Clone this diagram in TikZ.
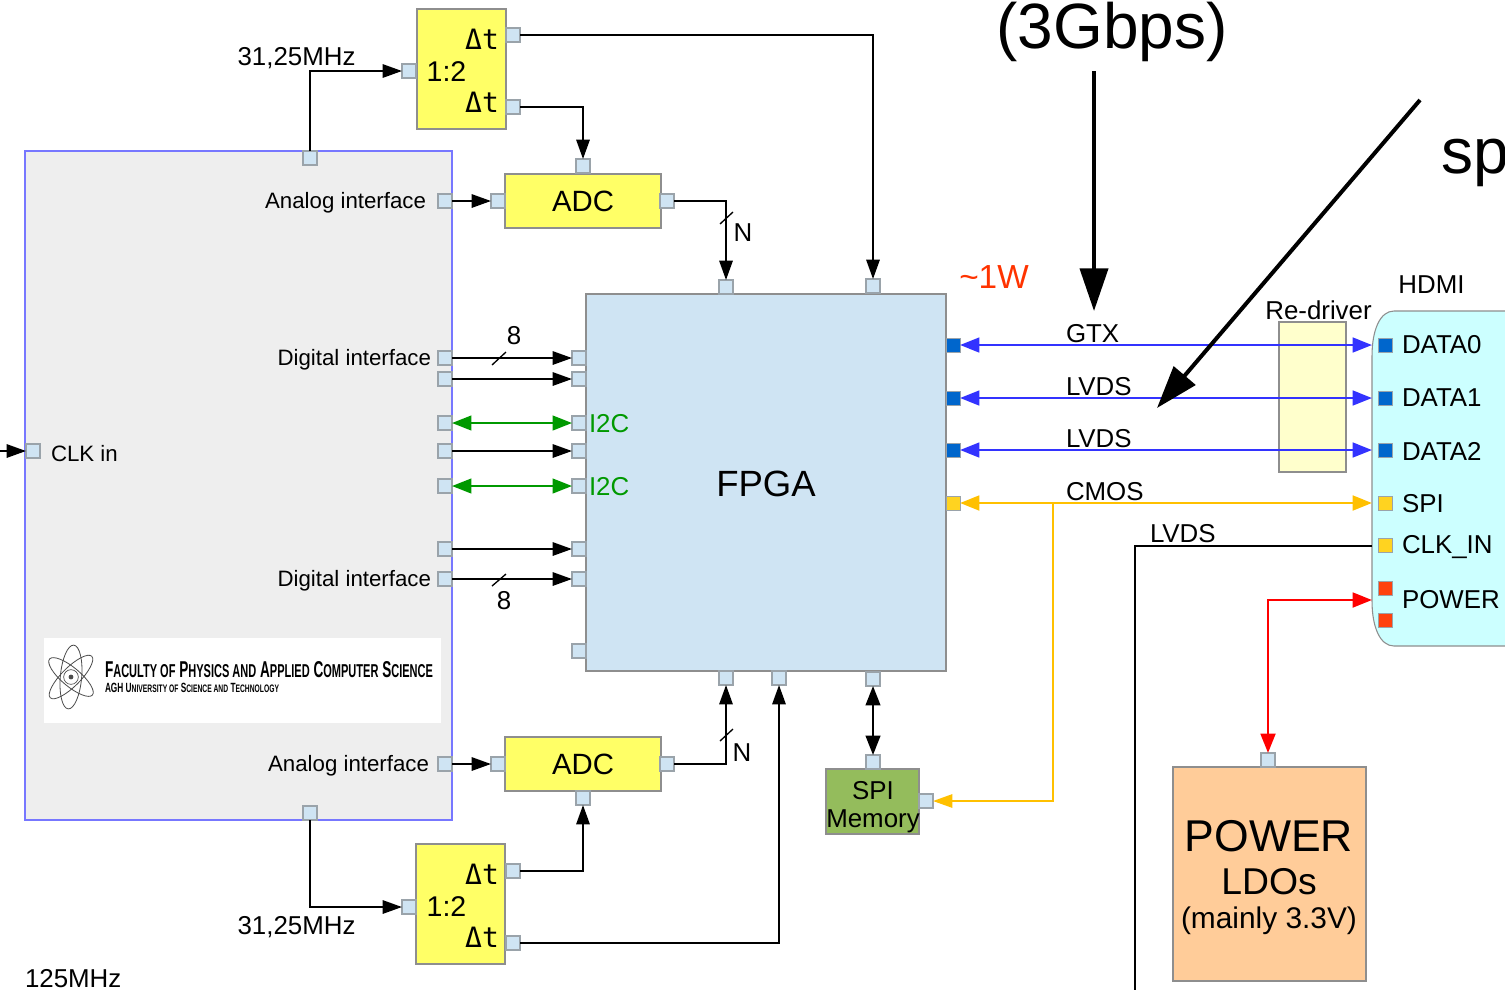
\documentclass[tikz,border=0pt]{standalone}
\usepackage{fontspec}
\usepackage{graphicx}
\setmainfont{Liberation Sans}
\newfontfamily\monof{DejaVu Sans Mono}
\usetikzlibrary{arrows.meta}
\definecolor{portfill}{HTML}{CFE4F3}
\definecolor{portline}{HTML}{9AA3AA}
\definecolor{boxline}{HTML}{8E8E8E}
\definecolor{bluel}{HTML}{3333FF}
\definecolor{greenl}{HTML}{009900}
\definecolor{yell}{HTML}{FFC000}
\definecolor{dblue}{HTML}{0066CC}
\definecolor{dyel}{HTML}{FFD320}
\definecolor{dred}{HTML}{FF420E}
\definecolor{ybright}{HTML}{FFFF66}
\definecolor{greyf}{HTML}{EEEEEE}
\definecolor{mainl}{HTML}{7777FF}
\definecolor{memf}{HTML}{94BC5C}
\definecolor{redrv}{HTML}{FFFFCC}
\definecolor{hdmif}{HTML}{CCFFFF}
\definecolor{powf}{HTML}{FFCC99}
\definecolor{wred}{HTML}{FF3300}
\newcommand{\sz}[1]{\fontsize{#1}{#1}\selectfont}
\newcommand{\lsc}[1]{{\sz{13pt}#1}}
\tikzset{
  x=0.75pt,y=-0.75pt,
  wh/.style 2 args={minimum width=#1*0.75pt,minimum height=#2*0.75pt,inner sep=0pt,outer sep=0pt},
  port/.style={draw=portline,line width=0.9pt,fill=portfill,wh={14}{14}},
  cport/.style={draw=portline,line width=0.6pt,fill=#1,wh={14}{14}},
  ybox/.style={draw=boxline,line width=0.8pt,fill=#1,outer sep=0pt,inner sep=0pt},
  txt/.style={inner sep=0pt,outer sep=0pt,text=black},
  wire/.style={line width=1.5pt,black},
  arr/.style={wire,-{Triangle[length=14.5pt,width=10pt]}},
  darr/.style={{Triangle[length=14.5pt,width=11pt]}-{Triangle[length=14.5pt,width=11pt]}},
  barr/.style={line width=1.9pt,bluel,darr},
  garr/.style={line width=1.5pt,greenl,darr},
  fat/.style={line width=3pt,black,-{Triangle[length=32pt,width=21pt]}},
}
\begin{document}
\begin{tikzpicture}
\clip (0,0) rectangle (1505,990);
% big boxes
\node[ybox=greyf,draw=mainl,wh={427}{669}] (main) at (238.5,485.5) {};
\node[ybox=portfill,wh={360}{377}] (fpga) at (766,482.5) {};
\node[ybox=ybright,wh={89}{120}] (s1) at (461.5,69) {};
\node[ybox=ybright,wh={89}{120}] (s2) at (460.5,904) {};
\node[ybox=ybright,wh={156}{54}] (adc1) at (583,201) {};
\node[ybox=ybright,wh={156}{54}] (adc2) at (583,764) {};
\node[ybox=memf,wh={93}{65}] (mem) at (872.5,801.5) {};
\node[ybox=redrv,wh={67}{150}] (red) at (1312.5,397) {};
\node[wh={180}{335}] (hdmi) at (1462,478.5) {};
\draw[boxline,line width=0.8pt,fill=hdmif] (1560,311) -- (1394,311) .. controls (1380,311) and (1372,330) .. (1372,356) -- (1372,601) .. controls (1372,627) and (1380,646) .. (1394,646) -- (1560,646) -- cycle;
\node[ybox=powf,wh={193}{214}] (pow) at (1269.5,874) {};
% logo
\node[fill=white,wh={397}{85}] (logo) at (242.5,680.5) {};
\coordinate (atom) at (71,677);
\draw[black!70,line width=0.6pt,rotate around={85:(atom)}] (atom) ellipse [x radius=24pt,y radius=8pt];
\draw[black!70,line width=0.6pt,rotate around={45:(atom)}] (atom) ellipse [x radius=22pt,y radius=7pt];
\draw[black!70,line width=0.6pt,rotate around={-40:(atom)}] (atom) ellipse [x radius=21pt,y radius=7pt];
\draw[black!70,line width=0.5pt] (atom) circle [radius=5.5pt];
\fill[black!70] (atom) circle [radius=1.8pt];
\node[txt,anchor=west] (logo1) at (105,670) {\resizebox{246pt}{12pt}{\bfseries\sz{16pt}F\lsc{ACULTY OF} P\lsc{HYSICS AND} A\lsc{PPLIED} C\lsc{OMPUTER} S\lsc{CIENCE}}};
\node[txt,anchor=west] (logo2) at (105,688) {\resizebox{130.5pt}{7pt}{\bfseries\sz{16pt}AGH U\lsc{NIVERSITY OF} S\lsc{CIENCE AND} T\lsc{ECHNOLOGY}}};
% ports
\node[port] (mt) at (310,158) {};
\node[port] (mb) at (310,813) {};
\node[port] (mc) at (33,451) {};
\foreach \n/\y in {a1/201,b1/358,b2/379,b3/423,b4/451,b5/486,b6/549,b7/579,a2/764}{\node[port] (m\n) at (445,\y) {};}
\foreach \n/\y in {b1/358,b2/379,b3/423,b4/451,b5/486,b6/549,b7/579,b8/651}{\node[port] (f\n) at (579,\y) {};}
\node[port] (ft1) at (726,287) {};
\node[port] (ft2) at (873,286) {};
\node[port] (fu1) at (726,678) {};
\node[port] (fu2) at (779,678) {};
\node[port] (fu3) at (873,679) {};
\node[port] (s1i) at (409,71) {};
\node[port] (s1a) at (513,35) {};
\node[port] (s1b) at (513,107) {};
\node[port] (s2i) at (409,907) {};
\node[port] (s2a) at (513,871) {};
\node[port] (s2b) at (513,943) {};
\node[port] (a1i) at (498,201) {};
\node[port] (a1c) at (583,166) {};
\node[port] (a1o) at (667,201) {};
\node[port] (a2i) at (498,764) {};
\node[port] (a2c) at (583,798) {};
\node[port] (a2o) at (667,764) {};
\node[port] (mems) at (873,762) {};
\node[port] (memr) at (926,801) {};
\node[port] (powp) at (1268,760) {};
\foreach \n/\y in {1/345,2/398,3/450}{
  \node[cport=dblue] (fr\n) at (953,\y) {};
  \node[cport=dblue] (h\n) at (1385,\y) {};
}
\node[cport=dyel] (fr4) at (953,503) {};
\node[cport=dyel] (h4) at (1385,503) {};
\node[cport=dyel] (h5) at (1385,545) {};
\node[cport=dred] (h6) at (1385,588) {};
\node[cport=dred] (h7) at (1385,620) {};
% connectors
\coordinate (clkfree) at (0,451);
\coordinate (j1) at (1053,503);
\coordinate (rj) at (1268,600);
\coordinate (lv) at (1372,546);
\coordinate (lvdsb) at (1135,990);
\coordinate (bigA) at (1094,71);
\coordinate (bigAe) at (1094,311);
\coordinate (bigB) at (1420,100);
\coordinate (bigBe) at (1157,408);
\draw[arr] (mt.north) |- (s1i.west);
\draw[arr] (s1a.east) -| (ft2.north);
\draw[arr] (s1b.east) -| (a1c.north);
\draw[arr] (ma1.east) -- (a1i.west);
\draw[arr] (a1o.east) -| (ft1.north);
\draw[arr] (mb1.east) -- (fb1.west);
\draw[arr] (mb2.east) -- (fb2.west);
\draw[garr] (mb3.east) -- (fb3.west);
\draw[arr] (mb4.east) -- (fb4.west);
\draw[garr] (mb5.east) -- (fb5.west);
\draw[arr] (mb6.east) -- (fb6.west);
\draw[arr] (mb7.east) -- (fb7.west);
\draw[arr] (ma2.east) -- (a2i.west);
\draw[arr] (a2o.east) -| (fu1.south);
\draw[arr] (mb.south) |- (s2i.west);
\draw[arr] (s2a.east) -| (a2c.south);
\draw[arr] (s2b.east) -| (fu2.south);
\draw[arr] (clkfree) -- (mc.west);
\draw[wire,darr] (fu3.south) -- (mems.north);
\foreach \n in {1,2,3}{\draw[barr] (fr\n.east) -- (hdmi.west |- fr\n);}
\draw[line width=2.1pt,yell,darr] (fr4.east) -- (hdmi.west |- fr4);
\draw[line width=1.4pt,yell,-{Triangle[length=14.5pt,width=10pt]}] (j1) |- (memr.east);
\draw[wire] (lv) -| (lvdsb);
\draw[line width=2.1pt,red,darr] (powp.north) |- (rj) -- (hdmi.west |- rj);
\draw[fat] (bigA) -- (bigAe);
\draw[fat] (bigB) -- (bigBe);
% slashes
\coordinate (sl1a) at (720,224); \coordinate (sl1b) at (733,212);
\coordinate (sl2a) at (720,741); \coordinate (sl2b) at (733,729);
\coordinate (sl3a) at (492,365); \coordinate (sl3b) at (506,352);
\coordinate (sl4a) at (492,586); \coordinate (sl4b) at (506,574);
\draw[line width=1pt] (sl1a) -- (sl1b);
\draw[line width=1pt] (sl2a) -- (sl2b);
\draw[line width=1pt] (sl3a) -- (sl3b);
\draw[line width=1pt] (sl4a) -- (sl4b);
% text
\node[txt,anchor=east] (tAn1) at (426,203) {\sz{16.7pt}Analog interface};
\node[txt,anchor=east] (tAn2) at (429,766) {\sz{16.7pt}Analog interface};
\node[txt,anchor=east] (tDi1) at (431,360) {\sz{16.7pt}Digital interface};
\node[txt,anchor=east] (tDi2) at (431,581) {\sz{16.7pt}Digital interface};
\node[txt,anchor=west] (tClk) at (51,454) {\sz{16.7pt}CLK in};
\node[txt] (t3125a) at (296.5,58) {\sz{19.4pt}31,25MHz};
\node[txt] (t3125b) at (296.5,927) {\sz{19.4pt}31,25MHz};
\node[txt,anchor=west] (t125) at (25,979) {\sz{19.4pt}125MHz};
\node[txt] (t8a) at (514,336) {\sz{19.4pt}8};
\node[txt] (t8b) at (504,601) {\sz{19.4pt}8};
\node[txt] (tN1) at (743,233) {\sz{19.4pt}N};
\node[txt] (tN2) at (742,753) {\sz{19.4pt}N};
\node[txt,anchor=west,text=greenl] (ti1) at (589,424) {\sz{19.4pt}I2C};
\node[txt,anchor=west,text=greenl] (ti2) at (589,487) {\sz{19.4pt}I2C};
\node[txt] (tFPGA) at (766,484) {\sz{27.4pt}FPGA};
\node[txt] (tadc1) at (583,201) {\sz{22pt}ADC};
\node[txt] (tadc2) at (583,764) {\sz{22pt}ADC};
\node[txt] (td1) at (482,39) {\sz{21pt}\monof Δt};
\node[txt] (td2) at (482,102) {\sz{21pt}\monof Δt};
\node[txt] (td3) at (482,874) {\sz{21pt}\monof Δt};
\node[txt] (td4) at (482,937) {\sz{21pt}\monof Δt};
\node[txt] (tr1) at (446.5,72) {\sz{21.4pt}1:2};
\node[txt] (tr2) at (446.5,907) {\sz{21.4pt}1:2};
\node[txt,anchor=base] (tmem1) at (873,799) {\sz{19.4pt}SPI};
\node[txt,anchor=base] (tmem2) at (873,827) {\sz{19.4pt}Memory};
\node[txt,text=wred] (t1w) at (994,277) {\sz{25pt}\textasciitilde1W};
\node[txt,anchor=base] (tgbps) at (1112,48) {\sz{48pt}(3Gbps)};
\node[txt,anchor=base west] (tsp) at (1441,173) {\sz{48pt}sp};
\node[txt] (thd) at (1431.5,285) {\sz{19.4pt}HDMI};
\node[txt] (tred) at (1318.5,310) {\sz{19.4pt}Re-driver};
\node[txt,anchor=base west] (tg) at (1066,342) {\sz{19.4pt}GTX};
\node[txt,anchor=base west] (tl1) at (1066,395) {\sz{19.4pt}LVDS};
\node[txt,anchor=base west] (tl2) at (1066,447) {\sz{19.4pt}LVDS};
\node[txt,anchor=base west] (tc) at (1066,500) {\sz{19.4pt}CMOS};
\node[txt,anchor=base west] (tl3) at (1150,542) {\sz{19.4pt}LVDS};
\node[txt,anchor=west] (th0) at (1402,345) {\sz{19.4pt}DATA0};
\node[txt,anchor=west] (th1) at (1402,398) {\sz{19.4pt}DATA1};
\node[txt,anchor=west] (th2) at (1402,451) {\sz{19.4pt}DATA2};
\node[txt,anchor=west] (th3) at (1402,504) {\sz{19.4pt}SPI};
\node[txt,anchor=west] (th4) at (1402,547) {\sz{19.4pt}CLK\_IN};
\node[txt,anchor=west] (th5) at (1402,600) {\sz{19.4pt}POWER};
\node[txt] (tp1) at (1269,836) {\sz{33.4pt}POWER};
\node[txt] (tp2) at (1269,882) {\sz{28pt}LDOs};
\node[txt] (tp3) at (1269,921) {\sz{22.4pt}(mainly 3.3V)};
\end{tikzpicture}
\end{document}
